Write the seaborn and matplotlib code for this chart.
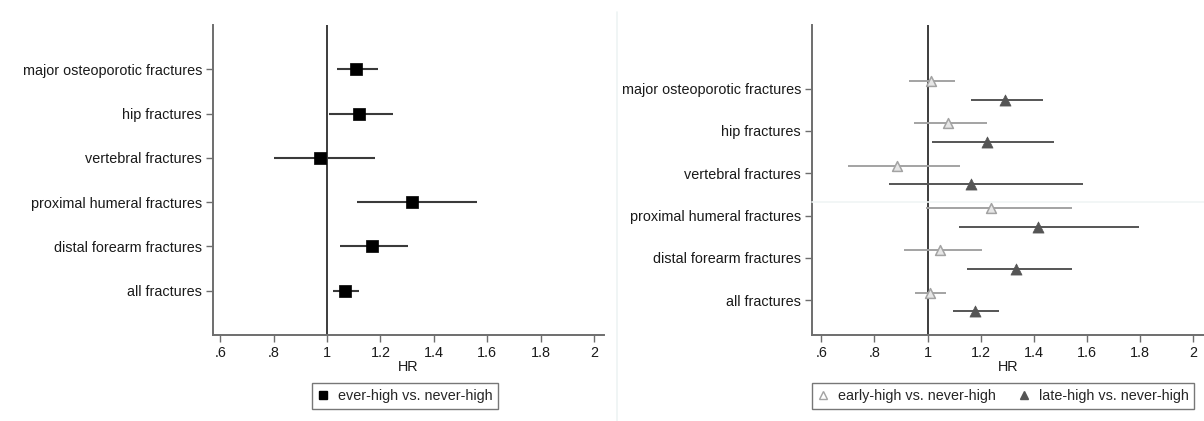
import numpy as np
import pandas as pd
import matplotlib
matplotlib.use("Agg")
import matplotlib.pyplot as plt
from matplotlib.lines import Line2D
import seaborn as sns

sns.set_theme(style="white")
plt.rcParams["font.family"] = ["Liberation Sans", "DejaVu Sans"]

# Outcomes, top to bottom
outcomes = ["major osteoporotic fractures", "hip fractures", "vertebral fractures",
            "proximal humeral fractures", "distal forearm fractures", "all fractures"]

# Ever-high vs. never-high hazard ratios with 95% CI
ever_hr = [1.109, 1.120, 0.972, 1.317, 1.168, 1.067]
ever_lo = [1.036, 1.006, 0.801, 1.114, 1.050, 1.021]
ever_hi = [1.189, 1.247, 1.179, 1.562, 1.302, 1.120]

# Early-high vs. never-high
early_hr = [1.012, 1.078, 0.886, 1.238, 1.046, 1.009]
early_lo = [0.931, 0.950, 0.702, 0.995, 0.910, 0.953]
early_hi = [1.104, 1.223, 1.121, 1.545, 1.205, 1.068]

# Late-high vs. never-high
late_hr = [1.292, 1.223, 1.163, 1.416, 1.332, 1.178]
late_lo = [1.163, 1.015, 0.853, 1.119, 1.149, 1.096]
late_hi = [1.436, 1.476, 1.586, 1.797, 1.544, 1.267]

xticks = [0.6, 0.8, 1.0, 1.2, 1.4, 1.6, 1.8, 2.0]
xticklabels = [".6", ".8", "1", "1.2", "1.4", "1.6", "1.8", "2"]

W, H = 1204, 421
fig = plt.figure(figsize=(W / 100, H / 100), dpi=100)
fig.patch.set_facecolor("white")

ax1 = fig.add_axes([213 / W, 1 - 335 / H, 391 / W, 310 / H])
ax2 = fig.add_axes([812 / W, 1 - 335 / H, 392 / W, 310 / H])

spine_col = "#6e6e6e"
ref_col = "#3c3c3c"
text_col = "#1a1a1a"
fs = 10.4


def style_axes(ax, ylim):
    for s in ["top", "right"]:
        ax.spines[s].set_visible(False)
    for s in ["left", "bottom"]:
        ax.spines[s].set_color(spine_col)
        ax.spines[s].set_linewidth(1.4)
    ax.set_ylim(*ylim)
    ax.set_yticks(range(len(outcomes)))
    ax.set_yticklabels(outcomes, fontsize=fs, color=text_col)
    ax.set_xticks(xticks)
    ax.set_xticklabels(xticklabels, fontsize=fs, color=text_col)
    ax.tick_params(axis="both", which="major", length=5, width=1.0,
                   color=spine_col, left=True, bottom=True, pad=3)
    ax.grid(False)
    ax.axvline(1.0, color=ref_col, lw=1.4, zorder=1)


def finish_labels(ax):
    ax.set_xlabel("HR", fontsize=fs, color=text_col, labelpad=0)
    ax.set_ylabel("")


ypos = np.arange(len(outcomes))

# Left panel: ever-high
ax1.set_xlim(0.573, 2.037)
style_axes(ax1, (6.0, -1.0))
ax1.hlines(ypos, ever_lo, ever_hi, color="#3a3a3a", lw=1.5, zorder=2)
df1 = pd.DataFrame({"hr": ever_hr, "y": ypos})
sns.scatterplot(data=df1, x="hr", y="y", ax=ax1, marker="s", s=66,
                color="black", edgecolor="black", linewidth=0.5, zorder=3,
                legend=False)
finish_labels(ax1)

# Right panel: early-high and late-high
ax2.set_xlim(0.565, 2.04)
style_axes(ax2, (5.82, -1.5))
y_early = ypos - 0.177
y_late = ypos + 0.265
early_col = "#a3a3a3"
late_col = "#555555"
ax2.hlines(y_early, early_lo, early_hi, color=early_col, lw=1.4, zorder=2)
ax2.hlines(y_late, late_lo, late_hi, color=late_col, lw=1.4, zorder=2)
df_e = pd.DataFrame({"hr": early_hr, "y": y_early})
df_l = pd.DataFrame({"hr": late_hr, "y": y_late})
sns.scatterplot(data=df_e, x="hr", y="y", ax=ax2, marker="^", s=50,
                facecolor="#e6e6e6", edgecolor=early_col, linewidth=1.1,
                zorder=3, legend=False)
sns.scatterplot(data=df_l, x="hr", y="y", ax=ax2, marker="^", s=64,
                color=late_col, edgecolor=late_col, linewidth=0.5,
                zorder=3, legend=False)
finish_labels(ax2)

# Legends below each panel
h_ever = Line2D([], [], ls="none", marker="s", ms=6, color="black")
leg1 = fig.legend([h_ever], ["ever-high vs. never-high"],
                  loc="center", bbox_to_anchor=(405 / W, 1 - 396 / H),
                  fontsize=fs, frameon=True, fancybox=False, handlelength=0.8,
                  handletextpad=0.6, borderpad=0.4, borderaxespad=0)
leg1.get_frame().set_edgecolor("#555555")
leg1.get_frame().set_linewidth(1.0)

h_early = Line2D([], [], ls="none", marker="^", ms=5.5, markerfacecolor="white",
                 markeredgecolor=early_col, markeredgewidth=1.0)
h_late = Line2D([], [], ls="none", marker="^", ms=6, color=late_col)
leg2 = fig.legend([h_early, h_late],
                  ["early-high vs. never-high", "late-high vs. never-high"],
                  loc="center", bbox_to_anchor=(1003 / W, 1 - 396 / H), ncol=2,
                  fontsize=fs, frameon=True, fancybox=False, handlelength=0.8,
                  handletextpad=0.6, columnspacing=1.6, borderpad=0.4,
                  borderaxespad=0)
leg2.get_frame().set_edgecolor("#555555")
leg2.get_frame().set_linewidth(1.0)

# Faint panel divider lines
fig.add_artist(Line2D([617 / W, 617 / W], [0, 1 - 12 / H], transform=fig.transFigure,
                      color="#eef3f3", lw=1.2))
fig.add_artist(Line2D([812 / W, 1.0], [1 - 202 / H, 1 - 202 / H],
                      transform=fig.transFigure, color="#f0f5f5", lw=1.2))

fig.savefig("out.png", dpi=100, facecolor="white")
